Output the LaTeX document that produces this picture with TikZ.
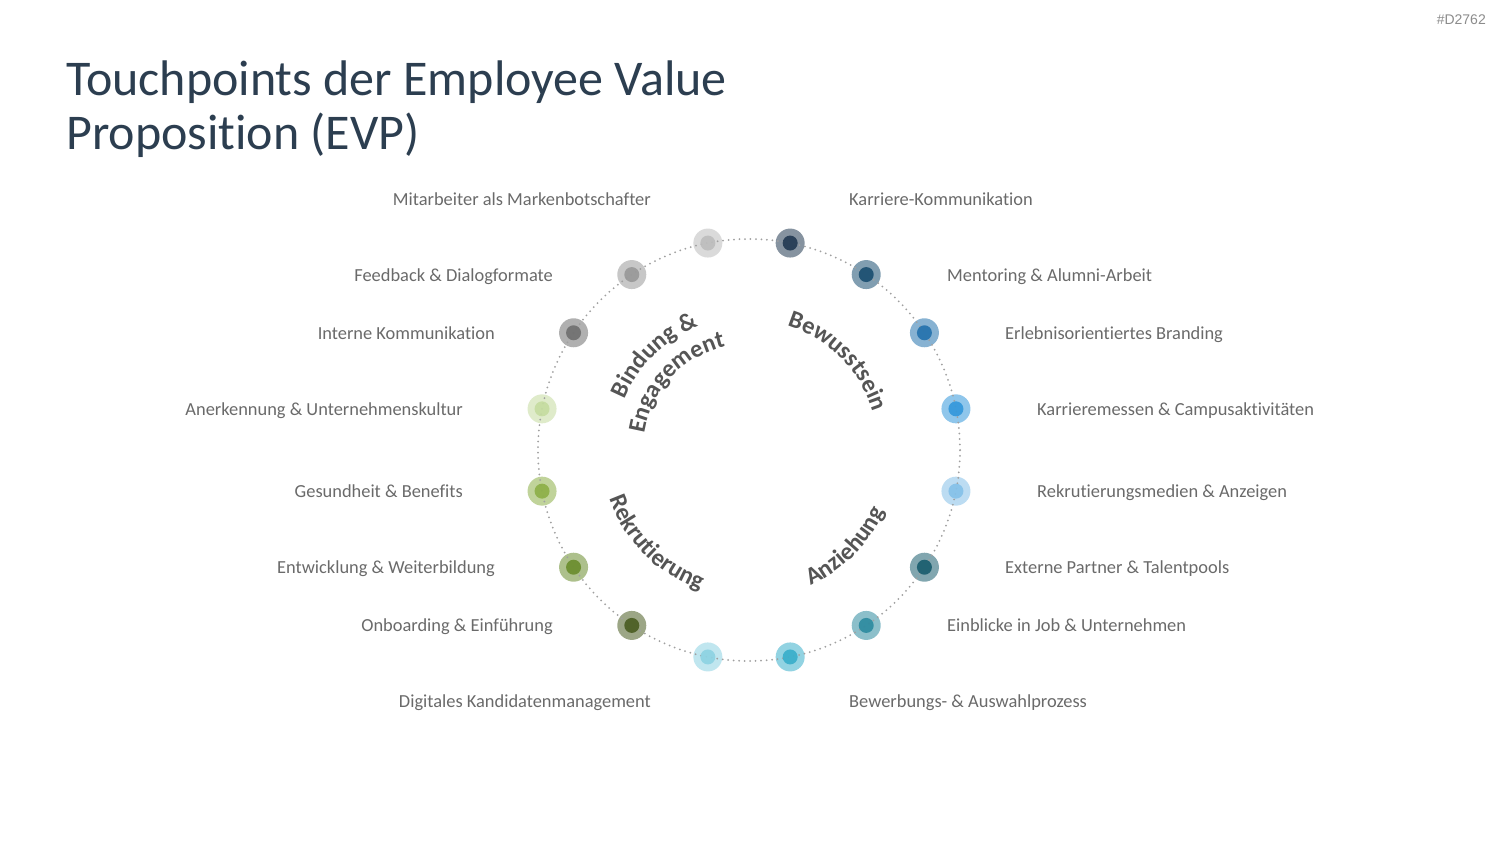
\documentclass[tikz,border=0pt]{standalone}
\usepackage{fontspec}
\setmainfont{Carlito}[Ligatures=NoCommon]
\newfontfamily\idfont{Liberation Sans}
\usetikzlibrary{decorations.text,calc}
\definecolor{titlecol}{HTML}{2C3E50}
\definecolor{labcol}{HTML}{6A6A6A}
\definecolor{catcol}{HTML}{555555}
\definecolor{ringcol}{HTML}{A0A0A0}
\definecolor{idcol}{HTML}{8C8C8C}
\definecolor{cA}{HTML}{243B53}
\definecolor{cB}{HTML}{1B4F72}
\definecolor{cC}{HTML}{2573AE}
\definecolor{cD}{HTML}{3498DB}
\definecolor{cE}{HTML}{85C1E9}
\definecolor{cF}{HTML}{1A5E6E}
\definecolor{cG}{HTML}{2E8BA0}
\definecolor{cH}{HTML}{3AAFCB}
\definecolor{cI}{HTML}{8ED3E3}
\definecolor{cJ}{HTML}{4B5E23}
\definecolor{cK}{HTML}{6B8E2E}
\definecolor{cL}{HTML}{8DB048}
\definecolor{cM}{HTML}{C5DCA0}
\definecolor{cN}{HTML}{707070}
\definecolor{cO}{HTML}{999999}
\definecolor{cP}{HTML}{BDBDBD}
\tikzset{
  outerdot/.style={circle, inner sep=0pt, minimum size=29pt, fill=#1, fill opacity=0.55},
  innerdot/.style={circle, inner sep=0pt, minimum size=15pt, fill=#1},
  rlab/.style={anchor=base west, inner sep=0pt, text=labcol, font=\fontsize{18.4}{22}\selectfont},
  llab/.style={anchor=base east, inner sep=0pt, text=labcol, font=\fontsize{18.4}{22}\selectfont},
  ring/.style={draw=ringcol, line width=2pt, line cap=round, dash pattern=on 0pt off 5.5pt},
  cattext/.style={decorate, decoration={text along path, text align=center, text color=catcol, text={#1}}}
}
\begin{document}
\begin{tikzpicture}[x=1pt,y=1pt]
\useasboundingbox (0,0) rectangle (1500,844);
\fill[white] (0,0) rectangle (1500,844);
% id
\node[anchor=base east, inner sep=0pt, text=idcol, font=\idfont\fontsize{14}{16}\selectfont] (id) at (1486,819) {\#D2762};
% title
\node[anchor=base west, inner sep=0pt, text=titlecol, font=\fontsize{50}{55}\selectfont] (t1) at (66,748) {Touchpoints der Employee Value};
\node[anchor=base west, inner sep=0pt, text=titlecol, font=\fontsize{50}{55}\selectfont] (t2) at (66,694) {Proposition (EVP)};
\coordinate (C) at (749,394);
% outer rings
\foreach \a/\c [count=\i] in {78.75/cA,56.25/cB,33.75/cC,11.25/cD,-11.25/cE,-33.75/cF,-56.25/cG,-78.75/cH,-101.25/cI,-123.75/cJ,-146.25/cK,-168.75/cL,168.75/cM,146.25/cN,123.75/cO,101.25/cP}
  \node[outerdot=\c] (o\i) at ($(C)+(\a:211)$) {};
% dotted ring
\draw[ring] (C) circle[radius=211];
% inner dots
\foreach \a/\c [count=\i] in {78.75/cA,56.25/cB,33.75/cC,11.25/cD,-11.25/cE,-33.75/cF,-56.25/cG,-78.75/cH,-101.25/cI,-123.75/cJ,-146.25/cK,-168.75/cL,168.75/cM,146.25/cN,123.75/cO,101.25/cP}
  \node[innerdot=\c, opacity=0.92] (p\i) at (o\i.center) {};
% labels right
\node[rlab] (l1) at (849,638) {Karriere-Kommunikation};
\node[rlab] (l2) at (947,562) {Mentoring \& Alumni-Arbeit};
\node[rlab] (l3) at (1005,504) {Erlebnisorientiertes Branding};
\node[rlab] (l4) at (1037,428) {Karrieremessen \& Campusaktivitäten};
\node[rlab] (l5) at (1037,346) {Rekrutierungsmedien \& Anzeigen};
\node[rlab] (l6) at (1005,270) {Externe Partner \& Talentpools};
\node[rlab] (l7) at (947,212) {Einblicke in Job \& Unternehmen};
\node[rlab] (l8) at (849,136) {Bewerbungs- \& Auswahlprozess};
% labels left
\node[llab] (l16) at (651,638) {Mitarbeiter als Markenbotschafter};
\node[llab] (l15) at (553,562) {Feedback \& Dialogformate};
\node[llab] (l14) at (495,504) {Interne Kommunikation};
\node[llab] (l13) at (463,428) {Anerkennung \& Unternehmenskultur};
\node[llab] (l12) at (463,346) {Gesundheit \& Benefits};
\node[llab] (l11) at (495,270) {Entwicklung \& Weiterbildung};
\node[llab] (l10) at (553,212) {Onboarding \& Einführung};
\node[llab] (l9) at (651,136) {Digitales Kandidatenmanagement};
% category texts
\path[cattext={|\fontsize{24.5}{28}\selectfont\bfseries|Bewusstsein}] ($(C)+(100:130)$) arc[start angle=100, end angle=-10, radius=130];
\path[cattext={|\fontsize{24.5}{28}\selectfont\bfseries|Bindung {\&}}] ($(C)+(190:134)$) arc[start angle=190, end angle=80, radius=134];
\path[cattext={|\fontsize{24.5}{28}\selectfont\bfseries|Engagement}] ($(C)+(200:106)$) arc[start angle=200, end angle=74, radius=106];
\path[cattext={|\fontsize{24.5}{28}\selectfont\bfseries|Rekrutierung}] ($(C)+(170:148)$) arc[start angle=170, end angle=280, radius=148];
\path[cattext={|\fontsize{24.5}{28}\selectfont\bfseries|Anziehung}] ($(C)+(-100:149)$) arc[start angle=-100, end angle=10, radius=149];
\end{tikzpicture}
\end{document}
